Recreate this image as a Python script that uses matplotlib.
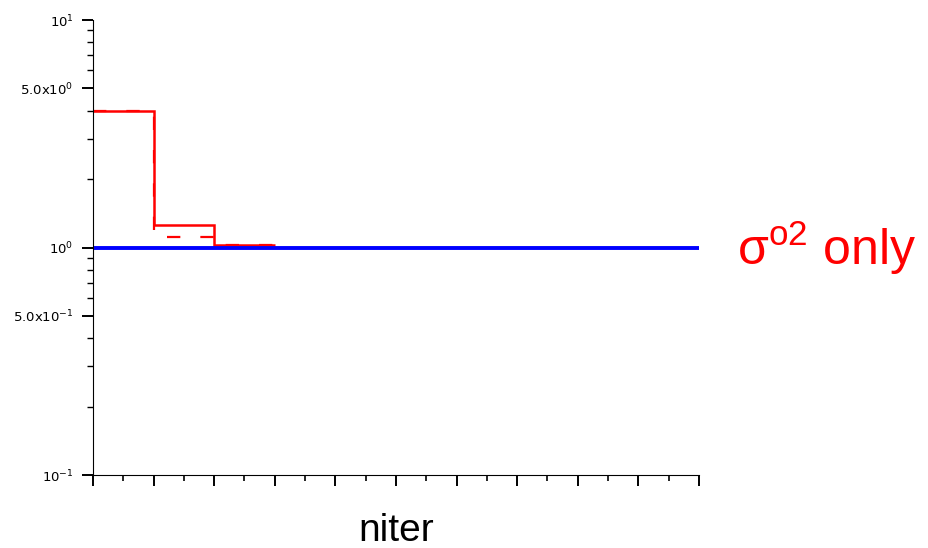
import matplotlib
matplotlib.use("Agg")
import matplotlib.pyplot as plt
import numpy
from matplotlib.ticker import FixedLocator, MultipleLocator, NullFormatter

plt.rcParams["font.family"] = ["Liberation Sans", "DejaVu Sans"]
plt.rcParams["mathtext.fontset"] = "custom"
plt.rcParams["mathtext.rm"] = "Liberation Sans"
plt.rcParams["mathtext.it"] = "Liberation Sans"
plt.rcParams["mathtext.default"] = "regular"

# iteration edges and values of the estimated variance ratio
niter_edges = [0, 1, 2, 3]
ratio_solid = [4.0, 1.25, 1.03]
ratio_dashed = [4.0, 1.11, 1.03]
reference_x = [0, 10]
reference_y = [1.0, 1.0]

y_ticks = [0.1, 0.5, 1.0, 5.0, 10.0]
y_tick_labels = [r"$10^{-1}$", r"$5.0x10^{-1}$", r"$10^{0}$", r"$5.0x10^{0}$", r"$10^{1}$"]
y_minor = [v * d for d in (0.1, 1.0) for v in (2, 3, 4, 6, 7, 8, 9)]

fig = plt.figure(figsize=(9.29, 5.48), dpi=100)
ax = fig.add_axes([0.1001, 0.1332, 0.6523, 0.8303])

ax.stairs(ratio_dashed, niter_edges, baseline=None, color="red", linewidth=1.6,
          linestyle=(0, (6, 9)))
ax.stairs(ratio_solid, niter_edges, baseline=None, color="red", linewidth=1.8)
ax.plot(reference_x, reference_y, color="blue", linewidth=2.8)

ax.set_yscale("log")
ax.set_xlim(0, 10)
ax.set_ylim(0.1, 10)

ax.spines["top"].set_visible(False)
ax.spines["right"].set_visible(False)

ax.xaxis.set_major_locator(MultipleLocator(1))
ax.xaxis.set_minor_locator(MultipleLocator(0.5))
ax.xaxis.set_major_formatter(NullFormatter())
ax.tick_params(axis="x", which="major", length=8, width=1.4)
ax.tick_params(axis="x", which="minor", length=4, width=1.2)

ax.yaxis.set_major_locator(FixedLocator(y_ticks))
ax.set_yticklabels(y_tick_labels, fontsize=9.5, family="DejaVu Sans")
ax.yaxis.set_minor_locator(FixedLocator(y_minor))
ax.yaxis.set_minor_formatter(NullFormatter())
ax.tick_params(axis="y", which="major", length=8, width=1.4, pad=6)
ax.tick_params(axis="y", which="minor", length=4, width=1.0)

ax.set_xlabel("niter", fontsize=28, labelpad=16)

ax.text(10.62, 1.0, r"$\sigma^{o2}$ only", color="red", fontsize=36,
        va="center", ha="left", clip_on=False)

fig.savefig("out.png", dpi=100)
